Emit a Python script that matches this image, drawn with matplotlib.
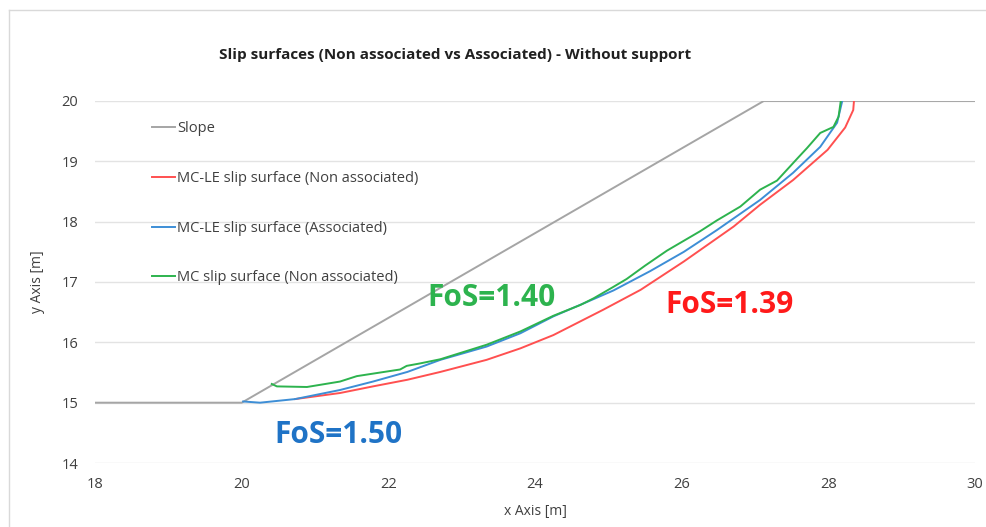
import matplotlib
matplotlib.use("Agg")
import matplotlib.pyplot as plt
from matplotlib.lines import Line2D

plt.rcParams['font.family'] = ['Open Sans', 'DejaVu Sans']

# slope geometry
slope_x = [18, 20, 27.12, 30]
slope_y = [15, 15, 20, 20]

# MC-LE slip surface, non associated
red_x = [20.73, 21.34, 21.79, 22.26, 22.71, 23.34, 23.80, 24.25, 24.93, 25.44,
         26.03, 26.71, 27.07, 27.52, 27.99, 28.23, 28.34, 28.35]
red_y = [15.06, 15.16, 15.27, 15.38, 15.51, 15.71, 15.90, 16.12, 16.54, 16.87,
         17.34, 17.92, 18.28, 18.69, 19.19, 19.56, 19.85, 20.00]

# MC-LE slip surface, associated
blue_x = [20.02, 20.25, 20.73, 21.34, 21.79, 22.26, 22.71, 23.34, 23.80, 24.25,
          24.71, 25.07, 25.57, 26.03, 26.48, 27.07, 27.52, 27.89, 28.12, 28.19]
blue_y = [15.02, 15.00, 15.06, 15.21, 15.35, 15.51, 15.71, 15.93, 16.15, 16.43,
          16.67, 16.86, 17.18, 17.50, 17.86, 18.36, 18.81, 19.24, 19.64, 20.00]

# MC slip surface, non associated
green_x = [20.41, 20.48, 20.89, 21.34, 21.57, 21.89, 22.16, 22.25, 22.43, 22.71,
           23.34, 23.80, 24.25, 24.62, 24.80, 25.07, 25.25, 25.50, 25.80, 26.25,
           26.48, 26.80, 27.07, 27.30, 27.58, 27.71, 27.89, 28.07, 28.14, 28.17]
green_y = [15.31, 15.27, 15.26, 15.35, 15.44, 15.50, 15.55, 15.61, 15.65, 15.72,
           15.96, 16.18, 16.44, 16.62, 16.73, 16.92, 17.05, 17.27, 17.52, 17.84,
           18.02, 18.25, 18.53, 18.68, 19.05, 19.22, 19.47, 19.57, 19.74, 20.00]

fos_labels = ["FoS=1.40", "FoS=1.39", "FoS=1.50"]
fos_pos = [(22.53, 16.74), (25.78, 16.62), (20.45, 14.46)]

c_gray = "#a5a5a5"
c_red = "#ff5050"
c_blue = "#3d8ed6"
c_green = "#2db34e"

fig = plt.figure(figsize=(9.87, 5.27), dpi=100)
ax = fig.add_axes([0.0963, 0.1214, 0.8915, 0.687])

ax.plot(slope_x, slope_y, color=c_gray, lw=1.4, label="Slope")
ax.plot(red_x, red_y, color=c_red, lw=1.4, label="MC-LE slip surface (Non associated)")
ax.plot(blue_x, blue_y, color=c_blue, lw=1.4, label="MC-LE slip surface (Associated)")
ax.plot(green_x, green_y, color=c_green, lw=1.4, label="MC slip surface (Non associated)")

ax.set_xlim(18, 30)
ax.set_ylim(14, 20)
ax.set_xticks(range(18, 31, 2))
ax.set_yticks(range(14, 21))
ax.grid(axis='y', color="#e3e3e3", lw=1)
ax.set_axisbelow(True)
for s in ax.spines.values():
    s.set_visible(False)
ax.tick_params(length=0, labelsize=10.5, colors="#404040")
ax.tick_params(axis='x', pad=10)
ax.tick_params(axis='y', pad=12)

ax.set_xlabel("x Axis [m]", fontsize=10, color="#404040", labelpad=9)
ax.set_ylabel("y Axis [m]", fontsize=10, color="#404040", labelpad=12)

ax.legend(loc="upper left", bbox_to_anchor=(0.05, 0.98), frameon=False,
          fontsize=10.5, labelspacing=2.38, handlelength=1.55, handletextpad=0.15,
          labelcolor="#404040")

fos_colors = [c_green, "#ff1a1a", "#1f73c6"]
for txt, (x, y), c in zip(fos_labels, fos_pos, fos_colors):
    ax.text(x, y, txt, color=c, fontsize=21.5, fontweight="bold", va="center", ha="left")

fig.text(0.461, 0.896, "Slip surfaces (Non associated vs Associated) - Without support",
         ha="center", va="center", fontsize=11, fontweight="bold", color="#202020")

# chart frame
fig.add_artist(Line2D([9/987, 9/987], [0, 1 - 10/527], transform=fig.transFigure,
                      color="#d9d9d9", lw=1))
fig.add_artist(Line2D([9/987, 1], [1 - 10/527, 1 - 10/527], transform=fig.transFigure,
                      color="#d9d9d9", lw=1))

fig.savefig("out.png", dpi=100)
